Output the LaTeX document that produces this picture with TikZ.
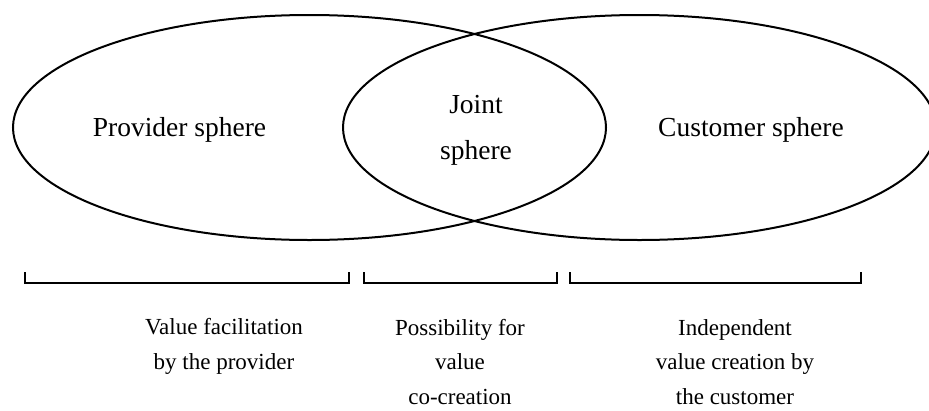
\documentclass[tikz,border=0pt]{standalone}
\usepackage{fontspec}
\setmainfont{Liberation Serif}
\usetikzlibrary{shapes.geometric}
\begin{document}
\begin{tikzpicture}[x=1pt,y=-1pt,
  sphere/.style={ellipse,draw,line width=2pt,minimum width=593pt,minimum height=225pt,inner sep=0pt},
  biglabel/.style={font=\fontsize{27.5}{46}\selectfont,align=center,anchor=base,inner sep=0pt},
  smalllabel/.style={font=\fontsize{23}{34.5}\selectfont,align=center,anchor=base,inner sep=0pt},
  bracket/.style={draw,line width=1.3pt}]
  \useasboundingbox (0,0) rectangle (929,410);
  \clip (0,0) rectangle (929,410);
  % the two overlapping spheres
  \node[sphere] (prov) at (309.5,127.5) {};
  \node[sphere] (cust) at (639.5,127.5) {};
  % sphere names (base anchor sits on the last line)
  \node[biglabel] (provlbl) at (179.5,136) {Provider sphere};
  \node[biglabel] (jointlbl) at (476,159) {Joint\\sphere};
  \node[biglabel] (custlbl) at (751,136) {Customer sphere};
  % brackets under each region
  \coordinate (b1a) at (25,272);  \coordinate (b1b) at (349,272);
  \coordinate (b2a) at (364,272); \coordinate (b2b) at (557,272);
  \coordinate (b3a) at (570,272); \coordinate (b3b) at (861,272);
  \path[bracket] (b1a) -- ++(0,11) -| (b1b);
  \path[bracket] (b2a) -- ++(0,11) -| (b2b);
  \path[bracket] (b3a) -- ++(0,11) -| (b3b);
  % region descriptions
  \node[smalllabel] (d1) at (224,369) {Value facilitation\\by the provider};
  \node[smalllabel] (d2) at (460,404) {Possibility for\\value\\co-creation};
  \node[smalllabel] (d3) at (735,404) {Independent\\value creation by\\the customer};
\end{tikzpicture}
\end{document}
